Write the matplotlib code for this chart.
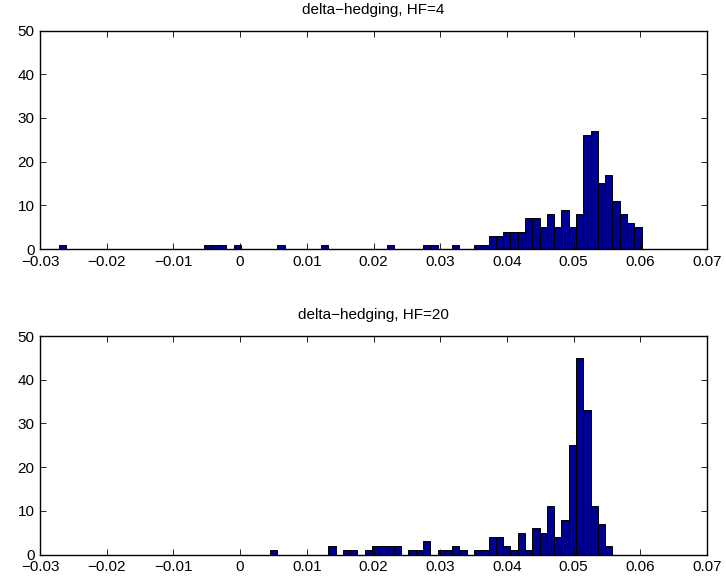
import numpy as np
import matplotlib
matplotlib.use("Agg")
import matplotlib.pyplot as plt

# histogram bins (shared by both panels)
bin_lo = -0.0272
bin_hi = 0.0602
n_bins = 80

counts_hf4 = [
    1, 0, 0, 0, 0, 0, 0, 0, 0, 0,
    0, 0, 0, 0, 0, 0, 0, 0, 0, 0,
    1, 1, 1, 0, 1, 0, 0, 0, 0, 0,
    1, 0, 0, 0, 0, 0, 1, 0, 0, 0,
    0, 0, 0, 0, 0, 1, 0, 0, 0, 0,
    1, 1, 0, 0, 1, 0, 0, 1, 1, 3,
    3, 4, 4, 4, 7, 7, 5, 8, 5, 9,
    5, 8, 26, 27, 15, 17, 11, 8, 6, 5,
]

counts_hf20 = [
    0, 0, 0, 0, 0, 0, 0, 0, 0, 0,
    0, 0, 0, 0, 0, 0, 0, 0, 0, 0,
    0, 0, 0, 0, 0, 0, 0, 0, 0, 1,
    0, 0, 0, 0, 0, 0, 0, 2, 0, 1,
    1, 0, 1, 2, 2, 2, 2, 0, 1, 1,
    3, 0, 1, 1, 2, 1, 0, 1, 1, 4,
    4, 2, 1, 5, 1, 6, 5, 11, 4, 8,
    25, 45, 33, 11, 7, 2, 0, 0, 0, 0,
]

titles = ["delta\u2212hedging, HF=4", "delta\u2212hedging, HF=20"]
x_ticks = [-0.03, -0.02, -0.01, 0, 0.01, 0.02, 0.03, 0.04, 0.05, 0.06, 0.07]
x_tick_labels = ["\u22120.03", "\u22120.02", "\u22120.01", "0", "0.01", "0.02",
                 "0.03", "0.04", "0.05", "0.06", "0.07"]
y_ticks = [0, 10, 20, 30, 40, 50]

plt.rcParams['font.family'] = ['Liberation Sans', 'DejaVu Sans']

W, H = 726, 588
fig = plt.figure(figsize=(W / 100, H / 100), dpi=100)

edges = np.linspace(bin_lo, bin_hi, n_bins + 1)
width = edges[1] - edges[0]
centers = (edges[:-1] + edges[1:]) / 2

ax_rects = [
    [40 / W, 1 - 249 / H, 667 / W, 218.5 / H],
    [40 / W, 1 - 554.5 / H, 667 / W, 218.5 / H],
]

for rect, counts, title in zip(ax_rects, [counts_hf4, counts_hf20], titles):
    ax = fig.add_axes(rect)
    c = np.array(counts)
    mask = c > 0
    ax.bar(centers[mask], c[mask], width=width, color=(0, 0, 0.5625),
           edgecolor='black', linewidth=0.7, align='center')
    ax.set_xlim(-0.03, 0.07)
    ax.set_ylim(0, 50)
    ax.set_xticks(x_ticks)
    ax.set_xticklabels(x_tick_labels)
    ax.set_yticks(y_ticks)
    ax.tick_params(direction='in', length=4.5, width=0.6, labelsize=11,
                   top=True, right=True, pad=4)
    for s in ax.spines.values():
        s.set_linewidth(1.0)
    ax.set_title(title, fontsize=11, pad=12)

fig.savefig("out.png", dpi=100)
